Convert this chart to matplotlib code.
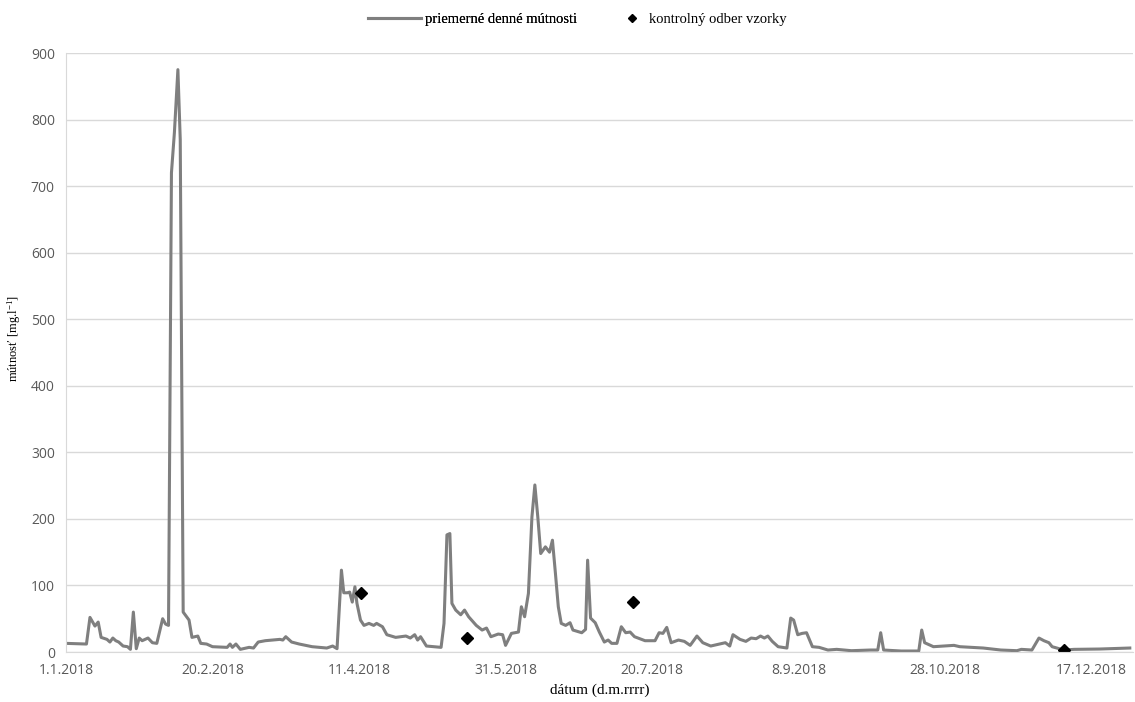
import numpy as np
import matplotlib
matplotlib.use('Agg')
import matplotlib.pyplot as plt
import matplotlib.dates as mdates

# day offsets from 1.1.2018 and average daily turbidity
days = [0, 7, 8.2, 9.9, 11, 12, 14, 15, 16, 17, 18, 19.5, 21, 22, 23, 24, 25, 26, 28, 29.5, 31,
        33, 34, 35, 36, 37, 38.2, 39, 40, 42, 43, 45, 46, 48, 50, 55, 56, 56.8, 58, 59.5, 62.5,
        64, 65.6, 68, 73, 74, 75, 77, 79.6, 84, 89, 91, 92.5, 94, 94.8, 96, 96.8, 97.7, 98.6,
        99.3, 100.5, 101.7, 103.4, 105, 106, 108, 109.5, 112.5, 116, 117.5, 119, 120, 121, 123,
        128, 129, 130, 131, 131.7, 133, 134.7, 136, 137.4, 140, 142, 143.5, 145, 147.5, 149, 150,
        152, 154.4, 155.4, 156.5, 157.8, 159, 160, 161, 162, 163.6, 165, 166, 167, 168, 169,
        170.5, 172, 173, 176, 177.3, 178, 179, 180.6, 182, 183.7, 185, 186.2, 188, 189.5, 191,
        192.5, 194, 197.6, 201, 202.4, 203.7, 205, 206.5, 209, 211, 213, 215.3, 217.3, 220, 223,
        225, 226.5, 227.6, 230, 232, 233.8, 235.5, 237, 238.3, 239.5, 241, 243, 246, 247.3,
        248.3, 249.7, 251.2, 252.7, 254.7, 257, 260, 263, 268, 274.6, 277, 278, 279, 285, 291,
        292, 293, 294.5, 296, 299.7, 303, 305, 313, 319, 324.5, 326, 329.6, 332, 333.7, 335.4,
        336.5, 340.5, 344, 352.7, 363]
turbidity = [13, 12, 52, 39, 45, 22, 19, 15, 21, 17, 15, 9, 8, 4, 60, 5, 21, 17, 21, 14, 13,
             50, 42, 40, 720, 780, 875, 770, 60, 48, 22, 24, 13, 12, 8, 7, 12, 7, 12, 4, 7,
             6, 15, 17, 19, 18, 23, 15, 12, 8, 6, 9, 5, 123, 89, 89, 90, 75, 98,
             73, 48, 40, 43, 40, 43, 38, 26, 22, 24, 21, 26, 18, 23, 9,
             7, 43, 176, 178, 73, 63, 56, 63, 53, 40, 33, 36, 23, 27, 26, 10,
             28, 30, 68, 53, 88, 203, 251, 203, 148, 158, 150, 168, 119, 68, 43,
             40, 44, 33, 29, 34, 138, 51, 44, 30, 15, 18, 13, 13, 38, 29,
             30, 23, 17, 17, 29, 28, 37, 14, 18, 16, 10, 24, 14, 9, 12,
             14, 9, 26, 19, 16, 21, 20, 24, 21, 24, 16, 8, 6, 51,
             48, 26, 28, 29, 8, 7, 3, 4, 2, 3, 3, 29, 3, 1.5, 1.5,
             33, 14, 11, 8, 9, 10, 8, 6, 3, 2, 4, 3, 21, 17, 14,
             8, 3, 4, 4.5, 6]

# control sampling
sample_days = [100.7, 136.7, 193.5, 340.5]
sample_values = [89, 21, 75, 3]

start = np.datetime64('2018-01-01T00:00')
to_dates = lambda d: start + (np.array(d) * 24 * 60).astype('timedelta64[m]')

plt.rcParams['mathtext.fontset'] = 'custom'
plt.rcParams['mathtext.rm'] = 'Liberation Serif'
plt.rcParams['mathtext.it'] = 'Liberation Serif:italic'

fig = plt.figure(figsize=(11.35, 7.02), dpi=100)
ax = fig.add_axes([0.0581, 0.0712, 0.9399, 0.8533])

line, = ax.plot(to_dates(days), turbidity, color='#7f7f7f', lw=2.2,
                solid_joinstyle='round')
pts, = ax.plot(to_dates(sample_days), sample_values, 'D', color='black', ms=6.5,
               linestyle='none')

ax.set_ylim(0, 900)
ax.set_yticks(np.arange(0, 901, 100))
ax.set_xlim(start, np.datetime64('2018-12-31T00:00'))
ticks = [start + np.timedelta64(50 * i, 'D') for i in range(8)]
ax.set_xticks(mdates.date2num(ticks))
ax.set_xticklabels(['1.1.2018', '20.2.2018', '11.4.2018', '31.5.2018', '20.7.2018',
                    '8.9.2018', '28.10.2018', '17.12.2018'])

ax.grid(axis='y', color='#d9d9d9', lw=1)
ax.set_axisbelow(True)
for s in ['top', 'right']:
    ax.spines[s].set_visible(False)
for s in ['left', 'bottom']:
    ax.spines[s].set_color('#d9d9d9')
ax.tick_params(length=0, labelsize=10, colors='#595959', pad=8)
for lab in ax.get_xticklabels() + ax.get_yticklabels():
    lab.set_family('Open Sans')

ax.set_xlabel('dátum (d.m.rrrr)', family='Liberation Serif', fontsize=11)
ax.xaxis.set_label_coords(0.5, -0.053)
ax.set_ylabel(r'mútnosť [mg.l$^{-1}$]', family='Liberation Serif', fontsize=9)
ax.yaxis.set_label_coords(-0.040, 0.524)

legprop = {'family': 'Liberation Serif', 'size': 10.5}
leg1 = fig.legend([line], ['priemerné denné mútnosti'], loc='upper right',
                  bbox_to_anchor=(590 / 1135, 1.0), frameon=False, prop=legprop,
                  handlelength=3.6, handletextpad=0.3)
fig.add_artist(leg1)
fig.legend([pts], ['kontrolný odber vzorky'], loc='upper left',
           bbox_to_anchor=(610 / 1135, 1.0), frameon=False, prop=legprop,
           handlelength=1.2, handletextpad=0.6, markerscale=0.7)

fig.savefig('out.png', dpi=100)
